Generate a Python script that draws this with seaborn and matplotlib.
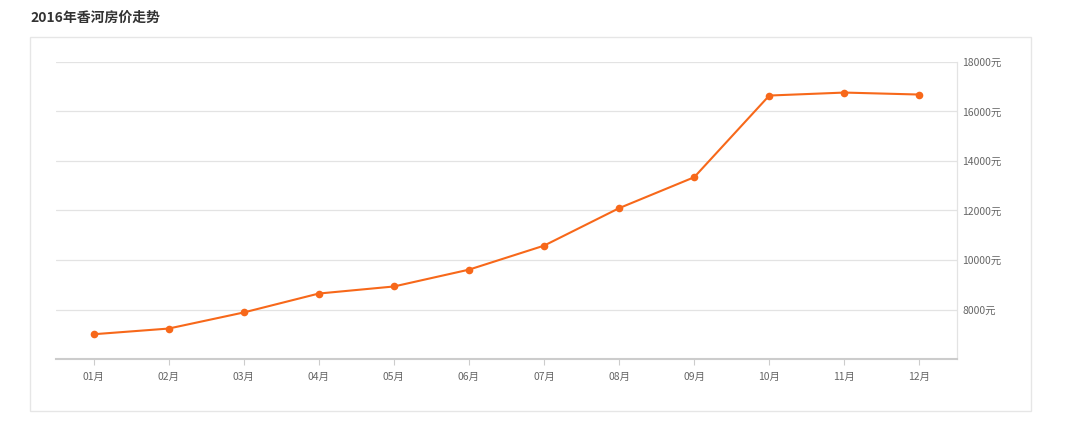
import pandas as pd
import matplotlib.pyplot as plt
import seaborn as sns
from matplotlib.patches import Rectangle

# Data
months = ['01月', '02月', '03月', '04月', '05月', '06月',
          '07月', '08月', '09月', '10月', '11月', '12月']
prices = [7000, 7230, 7880, 8645, 8930, 9610,
          10580, 12095, 13345, 16645, 16765, 16685]
y_ticks = [8000, 10000, 12000, 14000, 16000, 18000]
title = '2016年香河房价走势'

line_color = '#f7681a'
grid_color = '#e3e3e3'
text_color = '#666666'

sns.set_theme(style='white')
plt.rcParams['font.family'] = ['Noto Sans CJK SC', 'DejaVu Sans']

df = pd.DataFrame({'month': months, 'price': prices})
df['x'] = range(len(df))

fig = plt.figure(figsize=(10.8, 4.23), dpi=100)
fig.patch.set_facecolor('white')

# outer panel border
fig.patches.append(Rectangle((30 / 1080, 1 - 411 / 423), 1001 / 1080, 374 / 423,
                             transform=fig.transFigure, fill=False,
                             edgecolor='#e6e6e6', linewidth=1.0))

fig.text(30 / 1080, 1 - 18 / 423, title, fontsize=10, fontweight='bold',
         color='#333333', va='center', ha='left')

ax = fig.add_axes([56 / 1080, 1 - 359 / 423, 901 / 1080, 297 / 423])

sns.lineplot(data=df, x='x', y='price', ax=ax, color=line_color, linewidth=1.5,
             marker='o', markersize=5.5, markeredgewidth=0, zorder=3)

ax.set_xlim(-0.5, len(months) - 0.5)
ax.set_ylim(6000, 18000)
ax.set_xticks(df['x'])
ax.set_xticklabels(months)
ax.set_yticks(y_ticks)
ax.set_yticklabels([f'{v}元' for v in y_ticks])
ax.yaxis.tick_right()
ax.set_xlabel('')
ax.set_ylabel('')

ax.grid(axis='y', color=grid_color, linewidth=0.9)
ax.grid(axis='x', visible=False)
ax.set_axisbelow(True)

for side in ['left', 'top']:
    ax.spines[side].set_visible(False)
ax.spines['right'].set_color(grid_color)
ax.spines['right'].set_linewidth(0.9)
ax.spines['bottom'].set_color('#cccccc')
ax.spines['bottom'].set_linewidth(1.5)

ax.tick_params(axis='x', length=4, width=0.8, color='#cccccc', direction='out',
               labelsize=7.5, labelcolor=text_color, pad=5, bottom=True)
ax.tick_params(axis='y', length=0, labelsize=7.5, labelcolor=text_color, pad=4)

fig.savefig('out.png', dpi=100)
